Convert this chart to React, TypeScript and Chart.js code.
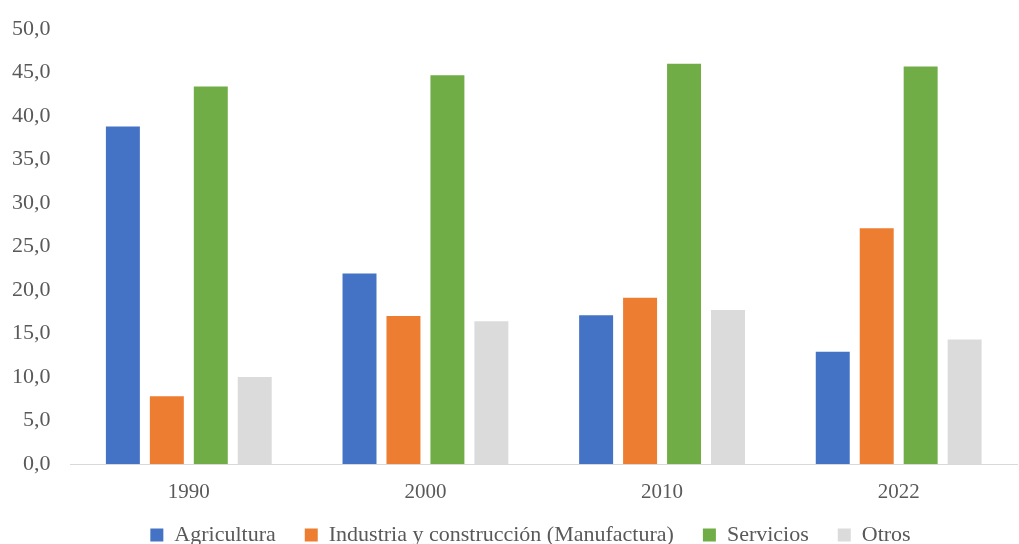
import React, { useEffect, useRef } from "react";
import { Chart, registerables } from "chart.js";

Chart.register(...registerables);

const categories = ["1990", "2000", "2010", "2022"];
const agricultura = [38.8, 21.9, 17.1, 12.9];
const industria = [7.8, 17.0, 19.1, 27.1];
const servicios = [43.4, 44.7, 46.0, 45.7];
const otros = [10.0, 16.4, 17.7, 14.3];
const seriesNames = ["Agricultura", "Industria y construcción (Manufactura)", "Servicios", "Otros"];
const seriesColors = ["#4472C4", "#ED7D31", "#70AD47", "#DBDBDB"];

const legendPlace = {
  id: "legendPlace",
  afterLayout(chart: any) {
    const l = chart.legend;
    if (!l) return;
    l.left += 52;
    l.width = l.right - l.left;
    l.top = 495;
    l.bottom = 544;
    l.height = 49;
  },
};

export default function App() {
  const ref = useRef<HTMLCanvasElement | null>(null);
  useEffect(() => {
    document.body.style.margin = "0";
    Chart.defaults.font.family = "Liberation Serif";
    Chart.defaults.font.size = 20;
    Chart.defaults.color = "#595959";
    const ctx = ref.current!;
    const values = [agricultura, industria, servicios, otros];
    const chart = new Chart(ctx, {
      type: "bar",
      data: {
        labels: categories,
        datasets: values.map((v, i) => ({
          label: seriesNames[i],
          data: v,
          backgroundColor: seriesColors[i],
          borderWidth: 0,
          categoryPercentage: 0.743,
          barPercentage: 0.773,
        })),
      },
      plugins: [legendPlace],
      options: {
        responsive: false,
        animation: false,
        maintainAspectRatio: false,
        layout: { padding: { top: 25, right: 2, left: -8, bottom: 0 } },
        plugins: {
          tooltip: { enabled: false },
          legend: {
            position: "bottom",
            maxHeight: 36,
            labels: {
              font: { family: "Liberation Serif", size: 22 },
              color: "#595959",
              boxWidth: 13,
              boxHeight: 13,
              padding: 29,
            },
          },
        },
        scales: {
          x: {
            grid: { display: false, drawTicks: false },
            border: { display: true, color: "#D9D9D9", width: 1 },
            ticks: { font: { family: "Liberation Serif", size: 21 }, color: "#595959", padding: 16 },
            afterFit: (s: any) => {
              s.height = 44;
            },
          },
          y: {
            min: 0,
            max: 50,
            grid: { display: false, drawTicks: false },
            border: { display: false },
            ticks: {
              stepSize: 5,
              font: { family: "Liberation Serif", size: 22, lineHeight: 0.82 },
              color: "#595959",
              padding: 20,
              callback: (v: any) => Number(v).toFixed(1).replace(".", ","),
            },
          },
        },
      },
    });
    return () => chart.destroy();
  }, []);
  return (
    <div style={{ width: 1019, height: 544 }}>
      <canvas ref={ref} width={1019} height={544} style={{ display: "block" }} />
    </div>
  );
}
